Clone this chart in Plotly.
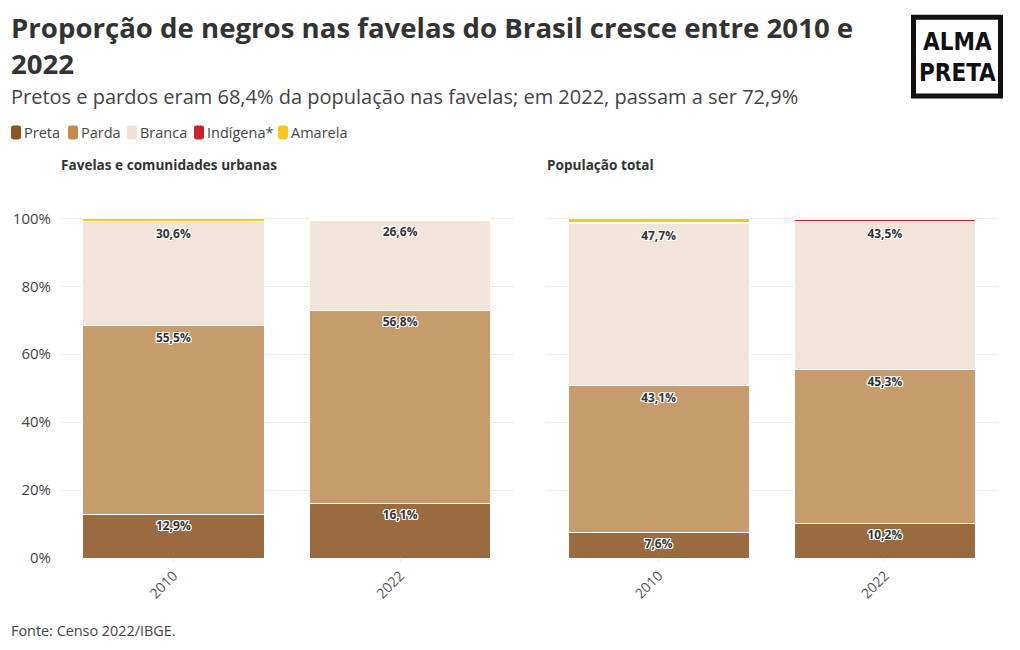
import plotly.graph_objects as go

years = ["2010", "2022"]
categories = ["Preta", "Parda", "Branca", "Indígena*", "Amarela"]
favelas = {
    "Preta": [12.9, 16.1],
    "Parda": [55.5, 56.8],
    "Branca": [30.6, 26.6],
    "Indígena*": [0.2, 0.3],
    "Amarela": [0.8, 0.1],
}
total = {
    "Preta": [7.6, 10.2],
    "Parda": [43.1, 45.3],
    "Branca": [47.7, 43.5],
    "Indígena*": [0.4, 0.6],
    "Amarela": [1.1, 0.4],
}
labelled = ["Preta", "Parda", "Branca"]
colors = {
    "Preta": "#9a6a40",
    "Parda": "#c79c6c",
    "Branca": "#f3e4da",
    "Indígena*": "#c8232c",
    "Amarela": "#f7c81c",
}
legend_colors = {
    "Preta": "#8b5424",
    "Parda": "#c48a4f",
    "Branca": "#f1e0d4",
    "Indígena*": "#c8232c",
    "Amarela": "#f7c81c",
}

W, H = 1020, 650
L, R, T, B = 60, 22, 214.6, 92
PW, PH = W - L - R, H - T - B


def px(x):
    return (x - L) / PW


def py(y):
    return (H - B - y) / PH


FONT = "Open Sans"
shadow = "1px 1px 0 #fff, -1px -1px 0 #fff, 1px -1px 0 #fff, -1px 1px 0 #fff, 0 1px 0 #fff, 0 -1px 0 #fff, 1px 0 0 #fff, -1px 0 0 #fff"

fig = go.Figure()
for sub, data in (("x", favelas), ("x2", total)):
    for cat in categories:
        vals = data[cat]
        txt = [f"{v:.1f}%".replace(".", ",") for v in vals] if cat in labelled else ["", ""]
        fig.add_trace(go.Bar(
            x=years, y=vals, name=cat,
            xaxis=sub, yaxis="y" if sub == "x" else "y2",
            marker=dict(color=colors[cat], line=dict(color="white", width=1)),
            text=txt, textposition="inside", insidetextanchor="end", textangle=0,
            constraintext="none",
            textfont=dict(family=FONT, size=12, color="#333333", weight=700, shadow=shadow),
            showlegend=False, hoverinfo="skip",
        ))

axis_common = dict(showgrid=False, tickangle=-45, ticks="outside", ticklen=3,
                   tickcolor="#e6e6e6", tickfont=dict(family=FONT, size=14, color="#555"),
                   showline=False, zeroline=False, automargin=False)
yaxis_common = dict(range=[0, 101], tickvals=[0, 20, 40, 60, 80, 100],
                    gridcolor="#ebebeb", gridwidth=1, zeroline=False, showline=False,
                    automargin=False)

fig.update_layout(
    width=W, height=H,
    margin=dict(l=L, r=R, t=T, b=B, pad=0, autoexpand=False),
    paper_bgcolor="white", plot_bgcolor="white",
    barmode="stack", bargap=0.2,
    font=dict(family=FONT, color="#333"),
    xaxis=dict(domain=[0, px(513.5)], **axis_common),
    xaxis2=dict(domain=[px(545.5), 1], **axis_common),
    yaxis=dict(**yaxis_common, ticktext=["0%", "20%", "40%", "60%", "80%", "100%"],
               tickfont=dict(family=FONT, size=15, color="#444"), ticks="", ticklabelstandoff=8),
    yaxis2=dict(**yaxis_common, anchor="x2", showticklabels=False),
    showlegend=False,
)

annotations = [
    dict(text="<b>Proporção de negros nas favelas do Brasil cresce entre 2010 e<br>2022</b>",
         x=px(9), y=py(5), xanchor="left", yanchor="top", align="left",
         font=dict(family=FONT, size=27.6, color="#333")),
    dict(text="Pretos e pardos eram 68,4% da população nas favelas; em 2022, passam a ser 72,9%",
         x=px(9), y=py(96), xanchor="left", yanchor="middle", align="left",
         font=dict(family=FONT, size=20, color="#444")),
    dict(text="<b>Favelas e comunidades urbanas</b>", x=px(59), y=py(164),
         xanchor="left", yanchor="middle", font=dict(family=FONT, size=13.6, color="#333")),
    dict(text="<b>População total</b>", x=px(545), y=py(164),
         xanchor="left", yanchor="middle", font=dict(family=FONT, size=13.6, color="#333")),
    dict(text="Fonte: Censo 2022/IBGE.", x=px(9), y=py(631), xanchor="left", yanchor="middle",
         font=dict(family=FONT, size=14.4, color="#444")),
    dict(text="<b>ALMA</b>", x=px(957), y=py(41), xanchor="center", yanchor="middle",
         font=dict(family="DejaVu Sans Condensed", size=24, color="#111")),
    dict(text="<b>PRETA</b>", x=px(957), y=py(72), xanchor="center", yanchor="middle",
         font=dict(family="DejaVu Sans Condensed", size=24, color="#111")),
]

# manual legend (rounded swatches + labels)
legend_x = [11, 68, 127, 194, 278]
for cat, lx in zip(categories, legend_x):
    x0, x1, y0, y1, r = lx, lx + 10, 125, 139, 2.5
    path = (f"M {px(x0 + r)} {py(y0)} L {px(x1 - r)} {py(y0)} "
            f"Q {px(x1)} {py(y0)} {px(x1)} {py(y0 + r)} L {px(x1)} {py(y1 - r)} "
            f"Q {px(x1)} {py(y1)} {px(x1 - r)} {py(y1)} L {px(x0 + r)} {py(y1)} "
            f"Q {px(x0)} {py(y1)} {px(x0)} {py(y1 - r)} L {px(x0)} {py(y0 + r)} "
            f"Q {px(x0)} {py(y0)} {px(x0 + r)} {py(y0)} Z")
    fig.add_shape(type="path", xref="paper", yref="paper", path=path,
                  fillcolor=legend_colors[cat], line=dict(width=0))
    annotations.append(dict(text=cat, x=px(lx + 11), y=py(132), xanchor="left",
                            yanchor="middle", font=dict(family=FONT, size=14.5, color="#444")))

for a in annotations:
    a.update(xref="paper", yref="paper", showarrow=False)
fig.update_layout(annotations=annotations)

fig.add_shape(type="rect", xref="paper", yref="paper",
              x0=px(913.5), x1=px(1000.5), y0=py(95.5), y1=py(16.5),
              line=dict(color="#111", width=5), fillcolor="rgba(0,0,0,0)")

fig.write_html("out.html")
